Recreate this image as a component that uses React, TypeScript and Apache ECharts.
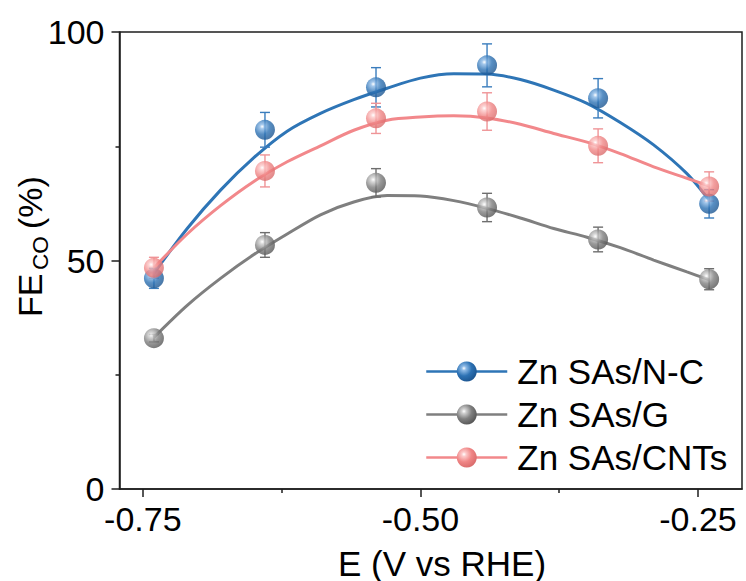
import React, { useEffect, useRef } from "react";
import * as echarts from "echarts";

// Measured Faradaic efficiency for CO at each applied potential (V vs RHE)
const POTENTIALS = [-0.74, -0.64, -0.54, -0.44, -0.34, -0.24];
const FE_NC = [46.1, 78.6, 87.9, 92.7, 85.5, 62.4];
const ERR_NC = [2.2, 3.8, 4.3, 4.7, 4.3, 3.1];
const FE_G = [33.0, 53.4, 67.0, 61.6, 54.6, 45.9];
const ERR_G = [0.8, 2.7, 3.1, 3.1, 2.7, 2.3];
const FE_CNT = [48.4, 69.6, 81.1, 82.6, 75.1, 66.2];
const ERR_CNT = [2.3, 3.5, 3.3, 4.1, 3.7, 3.2];

// Fitted trend curves sampled along the potential axis
const FIT_E = [
  -0.74, -0.71, -0.68, -0.65, -0.62, -0.59, -0.56, -0.53, -0.5,
  -0.47, -0.44, -0.41, -0.38, -0.35, -0.32, -0.29, -0.26, -0.24,
];
const FIT_NC = [
  47.2, 57.0, 65.4, 72.5, 78.3, 82.2, 85.2, 87.7, 89.9,
  90.85, 90.8, 89.6, 87.3, 84.4, 80.2, 75.3, 69.0, 63.2,
];
const FIT_G = [
  33.2, 40.2, 46.1, 51.3, 55.8, 60.0, 62.8, 64.2, 64.1,
  63.1, 61.4, 59.3, 57.0, 55.1, 52.8, 50.1, 47.5, 45.8,
];
const FIT_CNT = [
  48.4, 55.8, 62.0, 67.3, 71.6, 75.1, 78.5, 80.7, 81.4,
  81.65, 81.2, 79.8, 77.8, 75.9, 73.4, 70.5, 68.0, 66.3,
];

const X_MAJOR = [-0.75, -0.5, -0.25];
const X_MINOR = [-0.625, -0.375];
const NAMES = ["Zn SAs/N-C", "Zn SAs/G", "Zn SAs/CNTs"];

const FONT = "'Liberation Sans', Arial, Helvetica, sans-serif";
const AXIS_COLOR = "#1e1e1e";

const sphere = (light: string, base: string, dark: string) => ({
  type: "radial",
  x: 0.36,
  y: 0.34,
  r: 0.7,
  colorStops: [
    { offset: 0, color: "#ffffff" },
    { offset: 0.16, color: light },
    { offset: 0.55, color: base },
    { offset: 1, color: dark },
  ],
});

const STYLES = [
  { line: "#2e75b6", err: "#3a7dbd", marker: sphere("#8cb9e6", "#2d72b4", "#1c5590") },
  { line: "#7f7f7f", err: "#6e6e6e", marker: sphere("#cfcfcf", "#808080", "#555555") },
  { line: "#f2888b", err: "#ef9497", marker: sphere("#fcc9c9", "#f08686", "#d96b6b") },
];

const pts = (ys: number[]) => POTENTIALS.map((x, i) => [x, ys[i]]);
const fit = (ys: number[]) => FIT_E.map((x, i) => [x, ys[i]]);

function errorBars(name: string, ys: number[], errs: number[], color: string) {
  return {
    name,
    type: "custom",
    xAxisIndex: 0,
    yAxisIndex: 0,
    z: 3,
    silent: true,
    encode: { x: 0, y: 1 },
    data: POTENTIALS.map((x, i) => [x, ys[i], errs[i]]),
    renderItem: (_params: any, api: any) => {
      const x = api.value(0);
      const y = api.value(1);
      const e = api.value(2);
      const top = api.coord([x, y + e]);
      const bot = api.coord([x, y - e]);
      const hw = 5;
      const style = { stroke: color, lineWidth: 1.4 };
      return {
        type: "group",
        children: [
          { type: "line", shape: { x1: top[0], y1: top[1], x2: bot[0], y2: bot[1] }, style },
          { type: "line", shape: { x1: top[0] - hw, y1: top[1], x2: top[0] + hw, y2: top[1] }, style },
          { type: "line", shape: { x1: bot[0] - hw, y1: bot[1], x2: bot[0] + hw, y2: bot[1] }, style },
        ],
      };
    },
  };
}

export default function App() {
  const ref = useRef<HTMLDivElement>(null);

  useEffect(() => {
    if (!ref.current) return;
    const chart = echarts.init(ref.current, null, { renderer: "svg" });

    const values = [FE_NC, FE_G, FE_CNT];
    const errs = [ERR_NC, ERR_G, ERR_CNT];
    const fits = [FIT_NC, FIT_G, FIT_CNT];

    const lineSeries = NAMES.map((name, k) => ({
      name,
      type: "line",
      xAxisIndex: 0,
      yAxisIndex: 0,
      data: fit(fits[k]),
      smooth: 0.3,
      showSymbol: false,
      symbol: "circle",
      z: 2,
      silent: true,
      lineStyle: { color: STYLES[k].line, width: 3 },
      itemStyle: { color: STYLES[k].marker },
    }));

    const barSeries = NAMES.map((name, k) => errorBars(name, values[k], errs[k], STYLES[k].err));

    const pointSeries = NAMES.map((name, k) => ({
      name,
      type: "scatter",
      xAxisIndex: 0,
      yAxisIndex: 0,
      data: pts(values[k]),
      symbol: "circle",
      symbolSize: 20,
      z: 4,
      silent: true,
      itemStyle: { color: STYLES[k].marker },
    }));

    const tickStyle = { color: AXIS_COLOR, width: 1.5 };

    chart.setOption({
      animation: false,
      backgroundColor: "#ffffff",
      grid: {
        left: 119.5,
        right: 4,
        top: 32,
        bottom: 92,
        show: true,
        borderColor: AXIS_COLOR,
        borderWidth: 1.5,
        containLabel: false,
        outerBoundsMode: "none",
      },
      xAxis: [
        {
          type: "value",
          min: -0.771,
          max: -0.2104,
          position: "bottom",
          axisLine: { show: true, onZero: false, lineStyle: tickStyle },
          axisTick: { show: true, customValues: X_MAJOR, length: 8, lineStyle: tickStyle },
          axisLabel: {
            customValues: X_MAJOR,
            formatter: (v: number) => v.toFixed(2),
            fontSize: 34,
            fontFamily: FONT,
            color: "#000",
            margin: 13,
          },
          splitLine: { show: false },
        },
        {
          type: "value",
          min: -0.771,
          max: -0.2104,
          position: "bottom",
          axisLine: { show: false, onZero: false },
          axisTick: { show: true, customValues: X_MINOR, length: 4, lineStyle: tickStyle },
          axisLabel: { show: false },
          splitLine: { show: false },
        },
      ],
      yAxis: {
        type: "value",
        min: 0,
        max: 100,
        interval: 50,
        axisLine: { show: true, onZero: false, lineStyle: tickStyle },
        axisTick: { show: true, length: 8, lineStyle: tickStyle },
        minorTick: { show: true, splitNumber: 2, length: 4, lineStyle: tickStyle },
        axisLabel: { fontSize: 34, fontFamily: FONT, color: "#000", margin: 15 },
        splitLine: { show: false },
        minorSplitLine: { show: false },
      },
      legend: {
        data: NAMES,
        orient: "vertical",
        left: 425,
        top: 354,
        itemWidth: 81,
        itemHeight: 25,
        itemGap: 8,
        padding: 0,
        textStyle: { fontSize: 35, fontFamily: FONT, color: "#000", padding: [0, 0, 0, 5] },
        lineStyle: { width: 2.5 },
        selectedMode: false,
      },
      graphic: [
        {
          type: "text",
          x: 442,
          y: 563,
          style: {
            text: "E (V vs RHE)",
            fontSize: 35,
            fontFamily: FONT,
            fill: "#000",
            align: "center",
            verticalAlign: "middle",
          },
        },
        {
          type: "group",
          x: 42,
          y: 317,
          rotation: Math.PI / 2,
          children: [
            {
              type: "text",
              x: 0,
              y: -12.5,
              style: { text: "FE", fontSize: 34, fontFamily: FONT, fill: "#000", align: "left", verticalAlign: "middle" },
            },
            {
              type: "text",
              x: 47,
              y: -2,
              style: { text: "CO", fontSize: 22.5, fontFamily: FONT, fill: "#000", align: "left", verticalAlign: "middle" },
            },
            {
              type: "text",
              x: 88,
              y: -12.5,
              style: { text: "(%)", fontSize: 34, fontFamily: FONT, fill: "#000", align: "left", verticalAlign: "middle" },
            },
          ],
        },
      ],
      series: [...lineSeries, ...barSeries, ...pointSeries],
    });

    return () => chart.dispose();
  }, []);

  return (
    <div
      ref={ref}
      style={{ position: "fixed", left: 0, top: 0, width: 746, height: 581, background: "#fff" }}
    />
  );
}
